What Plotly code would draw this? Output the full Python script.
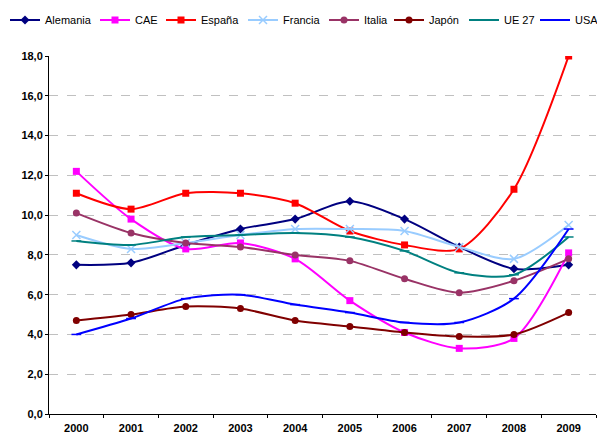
import plotly.graph_objects as go

years = ["2000", "2001", "2002", "2003", "2004", "2005", "2006", "2007", "2008", "2009"]

alemania = [7.5, 7.6, 8.5, 9.3, 9.8, 10.7, 9.8, 8.4, 7.3, 7.5]
cae = [12.2, 9.8, 8.3, 8.6, 7.8, 5.7, 4.1, 3.3, 3.8, 8.1]
espana = [11.1, 10.3, 11.1, 11.1, 10.6, 9.2, 8.5, 8.3, 11.3, 18.0]
francia = [9.0, 8.3, 8.6, 9.0, 9.3, 9.3, 9.2, 8.4, 7.8, 9.5]
italia = [10.1, 9.1, 8.6, 8.4, 8.0, 7.7, 6.8, 6.1, 6.7, 7.8]
japon = [4.7, 5.0, 5.4, 5.3, 4.7, 4.4, 4.1, 3.9, 4.0, 5.1]
ue27 = [8.7, 8.5, 8.9, 9.0, 9.1, 8.9, 8.2, 7.1, 7.0, 8.9]
usa = [4.0, 4.8, 5.8, 6.0, 5.5, 5.1, 4.6, 4.6, 5.8, 9.3]

y_ticks = [0, 2, 4, 6, 8, 10, 12, 14, 16, 18]

series = [
    ("Alemania", alemania, "#000080", "diamond", 7),
    ("CAE", cae, "#FF00FF", "square", 7),
    ("España", espana, "#FF0000", "square", 7),
    ("Francia", francia, "#99CCFF", "x-thin-open", 8),
    ("Italia", italia, "#993366", "circle", 7),
    ("Japón", japon, "#800000", "circle", 7),
    ("UE 27", ue27, "#008080", "line-ew-open", 7),
    ("USA", usa, "#0000FF", "line-ew-open", 7),
]

# legend line starts (px) as seen in the reference
legend_x_px = [10, 100, 166, 248, 329, 394, 469, 540]

W, H = 597, 433
fig = go.Figure()
legend_layout = {}
for i, (name, vals, color, sym, size) in enumerate(series):
    marker = dict(symbol=sym, size=size, color=color)
    if "open" in sym:
        marker["line"] = dict(color=color, width=1.5)
    lg = "legend" if i == 0 else f"legend{i + 1}"
    fig.add_trace(go.Scatter(
        x=years, y=vals, name=name, mode="lines+markers",
        line=dict(color=color, width=2, shape="spline", smoothing=0.8),
        marker=marker, legend=lg,
    ))
    legend_layout[lg] = dict(
        x=(legend_x_px[i] - 5) / W, xanchor="left", xref="container",
        y=1 - 20 / H, yanchor="middle", yref="container",
        orientation="h", bgcolor="rgba(0,0,0,0)", borderwidth=0,
        font=dict(family="Liberation Sans, Arial, sans-serif", size=11, color="black"),
    )

fig.update_layout(
    width=W, height=H,
    margin=dict(l=49, r=1, t=56, b=19, autoexpand=False),
    plot_bgcolor="white", paper_bgcolor="white",
    separators=",.",
    font=dict(family="Liberation Sans, Arial, sans-serif", size=11, color="black"),
    showlegend=True,
    **legend_layout,
)
fig.update_xaxes(
    type="category", range=[-0.5, 9.5],
    showline=True, linecolor="black", linewidth=1,
    ticks="outside", ticklen=3, tickcolor="black", tickson="boundaries",
    showgrid=False, ticklabelstandoff=4,
    tickfont=dict(family="Liberation Sans, Arial, sans-serif", size=11, color="black", weight="bold"),
)
fig.update_yaxes(
    range=[0, 18], tickvals=y_ticks, tickformat=".1f",
    showline=True, linecolor="black", linewidth=1,
    ticks="outside", ticklen=3, tickcolor="black",
    showgrid=True, gridcolor="#C0C0C0", griddash="dash", gridwidth=1,
    zeroline=False,
    tickfont=dict(family="Liberation Sans, Arial, sans-serif", size=11, color="black", weight="bold"),
)

fig.write_html(
    "out.html",
    config={"displayModeBar": False},
    post_script="document.body.style.margin='0';document.body.style.overflow='hidden';",
)
